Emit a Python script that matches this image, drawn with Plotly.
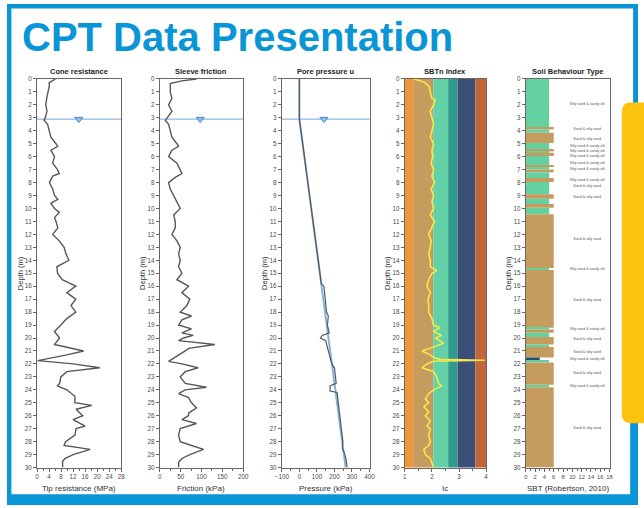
import plotly.graph_objects as go

W, H = 644, 508
def px(x): return x / W
def py(y): return 1 - y / H

FONT = "Liberation Sans, Arial, sans-serif"

# ---------------- data ----------------
qc_depth = [0, 0.3, 0.5, 1, 1.5, 2, 2.5, 3, 3.2, 3.5, 4, 4.5, 5, 5.2, 5.5, 6, 6.5, 7, 7.3, 7.5,
            8, 8.5, 9, 9.3, 9.6, 10, 10.3, 10.7, 11, 11.5, 12, 12.5, 13, 13.5, 14, 14.5, 15, 15.5,
            16, 16.5, 17, 17.5, 18, 18.5, 19, 19.5, 20, 20.5, 21, 21.3, 21.75, 22, 22.3, 22.6, 23,
            23.5, 23.7, 24, 24.5, 25, 25.2, 25.5, 26, 26.3, 26.8, 27, 27.5, 28, 28.3, 28.6, 29,
            29.3, 29.5, 30]
qc_mpa = [6.1, 4.0, 4.1, 3.6, 3.2, 2.9, 3.3, 2.7, 2.3, 3.5, 4.1, 4.6, 6.3, 6.9, 4.6, 5.8, 5.2, 6.8, 7.4, 5.2,
          4.1, 5.2, 5.8, 6.9, 4.6, 5.8, 7.4, 5.8, 6.3, 6.9, 5.2, 7.4, 9.0, 9.6, 10.6, 6.6, 6.8, 8.4,
          12.9, 9.9, 12.9, 11.3, 12.9, 9.9, 7.9, 5.8, 7.5, 5.8, 15.5, 9.9, 0.2, 12.0, 20.9, 9.9, 7.9,
          7.5, 6.8, 9.9, 12.6, 12.6, 18.2, 13.0, 15.2, 12.0, 16.0, 13.0, 12.6, 9.5, 9.0, 17.7, 12.0,
          9.4, 8.5, 8.5]

fs_depth = [0, 0.15, 0.35, 1, 1.5, 2, 2.5, 3, 3.2, 3.5, 4, 4.5, 5, 5.2, 5.5, 6, 6.5, 7, 7.3, 7.6,
            8, 8.5, 9, 9.5, 10, 10.5, 11, 11.5, 12, 12.5, 13, 13.5, 14, 14.5, 15, 15.5, 16, 16.5,
            17, 17.5, 18, 18.3, 18.6, 19, 19.3, 19.6, 19.8, 20, 20.2, 20.5, 20.8, 21, 21.5, 21.8,
            22, 22.3, 22.6, 23, 23.5, 23.8, 24, 24.3, 24.6, 25, 25.4, 25.8, 26, 26.3, 26.6, 27,
            27.5, 28, 28.3, 28.6, 29, 29.3, 29.6, 30]
fs_kpa = [88, 53, 25, 25, 29, 21, 29, 17, 13, 21, 25, 29, 41, 45, 29, 21, 41, 49, 53, 37,
          21, 25, 33, 41, 49, 33, 37, 37, 29, 41, 49, 45, 49, 45, 53, 41, 69, 53,
          72, 65, 49, 76, 53, 45, 76, 53, 80, 57, 45, 132, 69, 61, 37, 21,
          53, 92, 61, 49, 61, 112, 61, 45, 69, 76, 88, 69, 69, 53, 88, 49,
          45, 49, 76, 105, 72, 53, 45, 45]

u_depth = [0, 3.1, 5, 8, 10, 12, 14, 15.8, 16, 17, 18, 18.3, 19, 19.6, 19.8, 20, 20.2, 21, 21.5,
           22, 22.3, 23, 23.5, 23.7, 24.1, 24.2, 25, 26, 27, 28, 28.5, 29, 29.5, 30]
u_kpa = [0, 0, 19, 48, 68, 87, 107, 125, 140, 148, 155, 165, 160, 170, 130, 120, 150, 165, 175,
         185, 200, 205, 210, 175, 175, 215, 222, 232, 242, 248, 245, 260, 268, 272]
hydro_depth = [0, 3.1, 30]
hydro_kpa = [0, 0, 264]

ic_depth = [0, 0.15, 0.3, 0.6, 1, 1.5, 1.6, 2, 2.5, 3, 3.5, 4, 4.5, 5, 5.5, 6, 6.5, 7, 7.5, 8, 8.5,
            9, 9.5, 10, 10.5, 11, 11.5, 12, 12.5, 13, 13.5, 14, 14.5, 14.8, 15, 15.5, 16, 16.5,
            17, 17.5, 18, 18.5, 19, 19.2, 19.5, 19.8, 20, 20.4, 20.7, 21, 21.3, 21.5, 21.65,
            21.72, 21.8, 22, 22.3, 22.6, 23, 23.5, 23.7, 24, 24.3, 24.7, 25, 25.3, 25.7, 26,
            26.4, 26.8, 27, 27.5, 28, 28.3, 28.6, 29, 29.3, 29.6, 30]
ic_val = [1.33, 1.6, 1.75, 1.9, 1.94, 2.0, 2.12, 2.06, 1.94, 2.0, 2.06, 2.0, 1.94, 2.06, 2.0, 2.03,
          1.97, 2.06, 2.0, 2.1, 1.97, 2.06, 2.0, 2.06, 1.94, 2.1, 2.0, 1.88, 1.97, 1.94, 1.88, 1.94,
          1.94, 2.18, 2.0, 1.88, 1.82, 1.94, 1.85, 1.88, 1.88, 2.0, 2.06, 2.3, 2.06, 2.36, 2.12,
          2.43, 2.06, 1.63, 1.94, 2.06, 2.3, 3.95, 2.06, 1.82, 1.63, 2.06, 2.18, 2.24, 2.36, 2.06,
          1.88, 1.76, 1.88, 1.7, 1.88, 1.76, 1.94, 1.82, 1.94, 1.88, 1.94, 1.88, 1.7, 1.76, 1.94,
          2.0, 2.06]

ic_bounds = [1.0, 1.31, 2.05, 2.6, 2.95, 3.6, 4.0]

sbt_top = [0, 3.75, 3.9, 4.15, 4.95, 5.4, 5.6, 5.7, 5.95, 6.65, 6.8, 7.0, 7.2, 7.65, 7.95, 8.9, 9.25,
           9.65, 9.95, 10.45, 14.6, 14.75, 19.2, 19.35, 19.6, 19.93, 20.5, 20.7, 21.5, 21.7, 21.9,
           23.6, 23.8]
sbt_bottom = [3.75, 3.9, 4.15, 4.95, 5.4, 5.6, 5.7, 5.95, 6.65, 6.8, 7.0, 7.2, 7.65, 7.95, 8.9, 9.25,
              9.65, 9.95, 10.45, 14.6, 14.75, 19.2, 19.35, 19.6, 19.93, 20.5, 20.7, 21.5, 21.7, 21.9,
              23.6, 23.8, 30]
sbt_zone = [5, 6, 5, 6, 5, 6, 5, 6, 5, 6, 5, 6, 5, 6, 5, 6, 5, 6, 5, 6, 5, 6, 5, 6, 5, 6, 5, 6, 3, 5,
            6, 5, 6]

SILTY = "Silty sand & sandy silt"
SAND = "Sand & silty sand"
label_depth = [1.96, 3.86, 4.67, 5.18, 5.59, 5.97, 6.52, 6.96, 7.8, 8.28, 9.14, 12.4, 14.7, 17.06,
               19.35, 20.1, 21.1, 21.6, 22.7, 23.7, 26.96]
label_text = [SILTY, SAND, SAND, SILTY, SILTY, SILTY, SILTY, SILTY, SILTY, SAND, SAND, SAND, SILTY,
              SAND, SILTY, SAND, SAND, SILTY, SAND, SILTY, SAND]

water_table = 3.1
wt_marker_x = [13.9, 97, 140]

titles = ["Cone resistance", "Sleeve friction", "Pore pressure u", "SBTn Index", "Soil Behaviour Type"]
x_titles = ["Tip resistance (MPa)", "Friction (kPa)", "Pressure (kPa)", "Ic", "SBT (Robertson, 2010)"]
x_ranges = [[0, 28], [0, 200], [-100, 400], [1, 4], [0, 18]]
x_dticks = [4, 50, 100, 1, 2]
x_minor = [2, 25, 50, 0.5, 1]
x_tickfont = [6.3, 6.3, 6.3, 6.3, 5.8]

# ---------------- layout geometry ----------------
plot_px = [(30.7, 116.5), (156, 241), (280.5, 370), (406, 489), (529.5, 615)]
ytop, ybot = 76, 470
ydom = [py(ybot), py(ytop)]

LINE = "#6e6460"
TICKC = "#4a4a4a"
DATA = "#5a5656"

fig = go.Figure()

# data traces
fig.add_trace(go.Scatter(x=qc_mpa, y=qc_depth, mode="lines", line=dict(color=DATA, width=1.4),
                         xaxis="x", yaxis="y", hoverinfo="skip"))
fig.add_trace(go.Scatter(x=fs_kpa, y=fs_depth, mode="lines", line=dict(color=DATA, width=1.4),
                         xaxis="x2", yaxis="y2", hoverinfo="skip"))
fig.add_trace(go.Scatter(x=hydro_kpa, y=hydro_depth, mode="lines", line=dict(color="#7fb3e0", width=2),
                         xaxis="x3", yaxis="y3", hoverinfo="skip"))
fig.add_trace(go.Scatter(x=u_kpa, y=u_depth, mode="lines", line=dict(color=DATA, width=1.2),
                         xaxis="x3", yaxis="y3", hoverinfo="skip"))
fig.add_trace(go.Scatter(x=ic_val, y=ic_depth, mode="lines", line=dict(color="#f3e84a", width=1.6),
                         xaxis="x4", yaxis="y4", hoverinfo="skip"))

zone_color = {3: "#23506b", 5: "#63d1a0", 6: "#c59b5e"}
sbt_mid = [(a + b) / 2 for a, b in zip(sbt_top, sbt_bottom)]
sbt_thk = [b - a for a, b in zip(sbt_top, sbt_bottom)]
fig.add_trace(go.Bar(x=sbt_zone, y=sbt_mid, width=sbt_thk, base=0, orientation="h",
                     marker=dict(color=[zone_color[z] for z in sbt_zone], line=dict(width=0)),
                     xaxis="x5", yaxis="y5", hoverinfo="skip"))
fig.add_trace(go.Scatter(x=[13.2] * len(label_depth), y=label_depth, mode="text", text=label_text,
                         textfont=dict(size=3.6, color="#555555", family=FONT),
                         xaxis="x5", yaxis="y5", hoverinfo="skip"))

# water table markers
for i in range(3):
    ax = "" if i == 0 else str(i + 1)
    fig.add_trace(go.Scatter(x=[wt_marker_x[i]], y=[water_table], mode="markers",
                             marker=dict(symbol="triangle-down", size=7, color="#8fc0ea",
                                         line=dict(color="#4a86c8", width=1)),
                             xaxis="x" + ax, yaxis="y" + ax, hoverinfo="skip"))

shapes = []
annotations = []
band_colors = ["#f0963c", "#c59b5e", "#62d1a8", "#2e9c8c", "#3c4e7a", "#c2653a"]
for i in range(len(ic_bounds) - 1):
    shapes.append(dict(type="rect", xref="x4", yref="y4 domain", x0=ic_bounds[i], x1=ic_bounds[i + 1],
                       y0=0, y1=1, fillcolor=band_colors[i], line=dict(width=0), layer="below"))

for i in range(3):
    ax = "" if i == 0 else str(i + 1)
    shapes.append(dict(type="line", xref="x" + ax + " domain", yref="y" + ax, x0=0, x1=1,
                       y0=water_table, y1=water_table, line=dict(color="#8fb9e3", width=1.2),
                       layer="below"))

layout = dict(width=W, height=H, margin=dict(l=0, r=0, t=0, b=0), showlegend=False,
              paper_bgcolor="white", plot_bgcolor="white", font=dict(family=FONT))

for i in range(5):
    sfx = "" if i == 0 else str(i + 1)
    x0p, x1p = plot_px[i]
    layout["xaxis" + sfx] = dict(
        domain=[px(x0p), px(x1p)], range=x_ranges[i], anchor="y" + sfx, dtick=x_dticks[i],
        tick0=x_ranges[i][0], ticks="outside", ticklen=3, tickwidth=1, tickcolor=LINE, tickangle=0,
        minor=dict(dtick=x_minor[i], ticks="outside", ticklen=2, tickcolor=LINE),
        showline=True, mirror=True, linecolor=LINE, linewidth=1.3, showgrid=False, zeroline=False,
        tickfont=dict(size=x_tickfont[i], color=TICKC), fixedrange=True)
    layout["yaxis" + sfx] = dict(
        domain=ydom, range=[30, 0], anchor="x" + sfx, dtick=1, ticks="outside", ticklen=3,
        tickwidth=1, tickcolor=LINE, showline=True, mirror=True, linecolor=LINE, linewidth=1.3,
        showgrid=False, zeroline=False, tickfont=dict(size=6.3, color=TICKC), fixedrange=True)
    cx = (x0p + x1p) / 2
    annotations.append(dict(text="<b>" + titles[i] + "</b>", x=px(cx), y=py(68), xref="paper",
                            yref="paper", showarrow=False, xanchor="center", yanchor="middle",
                            font=dict(size=7.5, color="#222222")))
    annotations.append(dict(text=x_titles[i], x=px(cx), y=py(491), xref="paper", yref="paper",
                            showarrow=False, xanchor="center", yanchor="middle",
                            font=dict(size=8, color="#333333")))
    annotations.append(dict(text="Depth (m)", x=px(x0p - 17.5), y=py((ytop + ybot) / 2),
                            xref="paper", yref="paper", showarrow=False, textangle=-90,
                            xanchor="center", yanchor="middle", font=dict(size=7.5, color="#333333")))

# title
annotations.append(dict(text="<b>CPT Data Presentation</b>", x=px(13), y=py(33), xref="paper",
                        yref="paper", showarrow=False, xanchor="left", yanchor="middle",
                        font=dict(size=40, color="#0a95d7", family=FONT)))

# page frame
BLUE = "#0a95d7"
def prect(x0, y0, x1, y1, color):
    return dict(type="rect", xref="paper", yref="paper", x0=px(x0), x1=px(x1), y0=py(y1), y1=py(y0),
                fillcolor=color, line=dict(width=0), layer="above")
shapes += [prect(0, 0, 644, 4.5, BLUE), prect(0, 0, 4.5, 508, BLUE), prect(0, 497, 644, 508, BLUE),
           prect(639, 0, 644, 508, BLUE), prect(636, 392, 644, 508, BLUE)]
# yellow rounded panel
r = 9
yx0, yx1, yy0, yy1 = 627.5, 660, 100, 425
path = (f"M {px(yx0 + r)},{py(yy0)} L {px(yx1)},{py(yy0)} L {px(yx1)},{py(yy1)} "
        f"L {px(yx0 + r)},{py(yy1)} Q {px(yx0)},{py(yy1)} {px(yx0)},{py(yy1 - r)} "
        f"L {px(yx0)},{py(yy0 + r)} Q {px(yx0)},{py(yy0)} {px(yx0 + r)},{py(yy0)} Z")
shapes.append(dict(type="path", xref="paper", yref="paper", path=path, fillcolor="#fcc30e",
                   line=dict(width=0), layer="above"))

layout["shapes"] = shapes
layout["annotations"] = annotations
fig.update_layout(**layout)
fig.write_html("out.html")
